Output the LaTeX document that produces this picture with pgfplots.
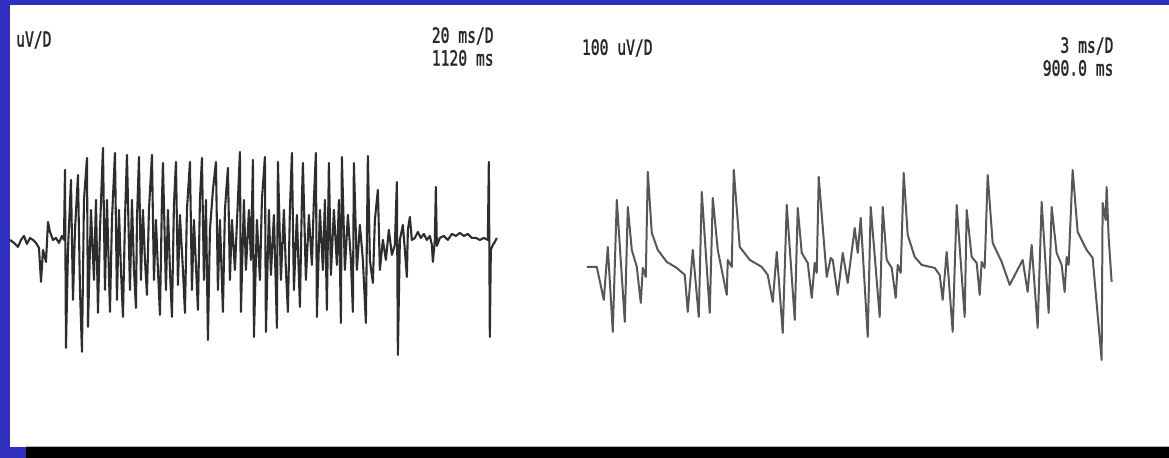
\documentclass[border=0pt]{standalone}
\usepackage{fontspec}
\usepackage{pgfplots}
\pgfplotsset{compat=1.18}
\newfontfamily\lcd{DejaVu Sans Mono}[FakeBold=1.6]
\definecolor{frameblue}{RGB}{48,46,190}
\definecolor{trace}{RGB}{45,45,45}
\newcommand{\lbl}[1]{\scalebox{0.95}[1.35]{\lcd\fontsize{15.5}{15.5}\selectfont #1}}
\begin{document}
\begin{tikzpicture}
\begin{axis}[
  width=1169bp, height=458bp, scale only axis,
  xmin=0, xmax=1169, ymin=0, ymax=458, y dir=reverse,
  hide axis, clip=false]
% frame and panel
\addplot[draw=none, fill=frameblue] coordinates {(0,0) (1169,0) (1169,458) (0,458)} -- cycle;
\addplot[draw=none, fill=white] coordinates {(10,5) (1169,5) (1169,447) (10,447)} -- cycle;
\addplot[draw=none, fill=black] coordinates {(26,447) (1169,447) (1169,458) (26,458)} -- cycle;
\addplot[gray!60, line width=0.8pt] coordinates {(26,447) (1169,447)};
% left trace
\addplot[trace, line width=2.1pt, line join=round] coordinates {
(10,240)(14,243)(18,247)(21,240)(24,236)(27,244)(30,238)(33,240)(36,243)(39,248)(41,282)(43,250)(46,262)(48,222)(50,232)(53,240)(56,238)(59,243)(62,236)
(64,240)(65,170)(66,348)(68,250)(71,180)(73,300)(75,230)(78,175)(80,290)(82,352)(84,200)(87,158)(88,327)(91,210)(94,280)(96,200)(98,313)(100,230)(103,148)(105,290)(107,200)(110,312)(112,220)(115,153)(117,300)(119,210)(121,270)(123,317)(125,220)(127,155)(130,290)(132,200)(134,270)(136,308)(137,220)(139,157)(141,280)(143,210)(145,260)(147,295)(149,210)(152,155)(154,280)(156,220)(158,270)(160,315)(162,200)(163,163)(166,290)(168,210)(170,270)(172,317)(174,205)(176,162)(178,285)(180,215)(183,270)(185,313)(187,210)(190,162)(192,290)(194,220)(196,265)(198,310)(200,200)(202,158)(204,280)(206,200)(208,340)(210,230)(213,190)(216,162)(218,290)(220,220)(223,312)(225,210)(228,168)(230,280)(232,220)(235,270)(238,200)(240,152)(241,312)(244,200)(246,270)(249,210)(251,260)(253,160)(254,337)(257,220)(260,280)(262,200)(265,157)(266,332)(269,210)(271,275)(274,215)(277,328)(278,162)(281,280)(284,210)(286,270)(288,312)(290,210)(292,153)(294,290)(297,215)(300,307)(302,200)(303,163)(306,280)(309,215)(312,265)(314,200)(316,153)(317,317)(320,210)(323,270)(325,200)(327,310)(329,163)(331,275)(334,210)(337,265)(339,200)(341,323)(342,157)(345,270)(348,215)(351,260)(353,312)(354,163)(357,270)(360,225)(363,260)(366,323)(368,156)(370,260)(373,283)(375,220)(378,190)(380,270)(383,240)(386,260)(389,230)(392,255)(395,245)(397,182)(398,355)(400,240)(403,225)(405,250)(407,277)(408,230)(410,217)(412,240)(415,238)(418,232)(421,238)(424,234)(427,240)(430,236)(432,245)(433,262)(435,240)(436,187)(437,246)(440,238)(444,236)(448,240)(452,234)(456,236)(460,233)(464,236)(468,234)(472,238)(476,238)(480,240)(484,238)(488,240)(489,162)(490,337)(491,250)(493,245)(495,242)(497,238)
};
% right trace
\addplot[trace!80, line width=2.0pt, line join=round] coordinates {
(587,267)(597,267)(604,300)(608,247)(613,332)(617,200)(625,322)(628,207)(632,250)(637,267)(641,303)(643,268)(646,277)(648,172)(652,233)(658,250)(667,262)(677,268)(685,275)(688,312)(693,250)(699,317)(702,192)(710,313)(713,198)(718,250)(727,295)(728,260)(732,267)(734,170)(740,247)(750,260)(762,267)(768,275)(773,302)(777,252)(783,333)(787,205)(795,320)(798,208)(802,253)(808,263)(812,298)(815,263)(817,273)(819,177)(827,277)(831,258)(833,260)(838,295)(843,253)(848,283)(855,228)(858,253)(861,218)(868,337)(871,207)(880,317)(883,207)(887,260)(892,268)(896,298)(898,265)(901,273)(904,173)(908,235)(915,257)(922,265)(935,268)(940,275)(943,300)(947,252)(953,332)(957,205)(965,317)(967,210)(972,257)(977,263)(980,295)(982,262)(985,268)(988,175)(993,243)(1002,262)(1010,285)(1023,260)(1028,292)(1032,245)(1038,328)(1042,202)(1049,313)(1052,207)(1057,253)(1062,265)(1065,292)(1067,257)(1069,265)(1073,170)(1078,232)(1087,250)(1093,258)(1102,360)(1103,203)(1106,220)(1107,187)(1109,237)(1112,282)
};
% labels
\node[anchor=west, inner sep=0pt, text=black!85] at (axis cs:16,40) {\lbl{uV/D}};
\node[anchor=east, inner sep=0pt, text=black!85] at (axis cs:494,36) {\lbl{20 ms/D}};
\node[anchor=east, inner sep=0pt, text=black!85] at (axis cs:494,58) {\lbl{1120 ms}};
\node[anchor=west, inner sep=0pt, text=black!85] at (axis cs:582,48) {\lbl{100 uV/D}};
\node[anchor=east, inner sep=0pt, text=black!85] at (axis cs:1114,46) {\lbl{3 ms/D}};
\node[anchor=east, inner sep=0pt, text=black!85] at (axis cs:1114,68) {\lbl{900.0 ms}};
\end{axis}
\end{tikzpicture}
\end{document}
